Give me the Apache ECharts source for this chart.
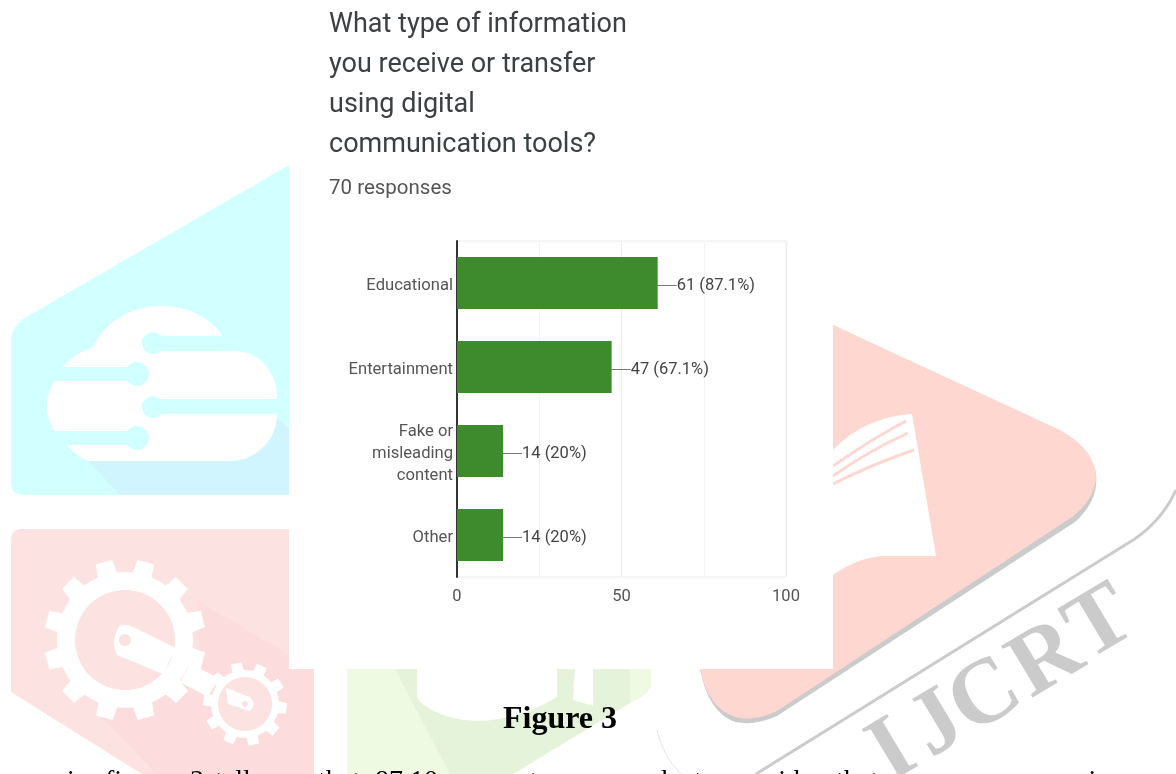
<!DOCTYPE html>
<html>
<head>
<meta charset="utf-8">
<title>Digital communication survey</title>
<style>html,body{margin:0;padding:0;background:#fff;overflow:hidden}#chart{width:1176px;height:774px}</style>
<script src="https://cdn.jsdelivr.net/npm/echarts@6/dist/echarts.min.js"></script>
</head>
<body>
<div id="chart"></div>
<script>
// Survey responses
const categories = ['Educational', 'Entertainment', 'Fake or\nmisleading\ncontent', 'Other'];
const counts = [61, 47, 14, 14];
const shares = ['87.1%', '67.1%', '20%', '20%'];
const questionLines = ['What type of information', 'you receive or transfer', 'using digital', 'communication tools?'];
const responseNote = '70 responses';
const caption = 'Figure 3';
const bodyWords = [['in', 67], ['figure', 105], ['3', 190], ['tells', 215], ['us', 276], ['that', 318], ['87.10', 375], ['percent', 455], ['respondents', 579], ['said', 755], ['that', 836], ['users', 900], ['receive', 1042]];
const crestLetters = [['I', 893, 753], ['J', 938, 726], ['C', 986, 698], ['R', 1047, 661], ['T', 1101, 625]];

const Z = -10;
let pathCount = 0;
// Registers an SVG path string as a shape type usable from the graphic component
function pathType(d) {
  const name = 'emblemPath' + (pathCount++);
  echarts.graphic.registerShape(name, echarts.graphic.extendPath(d, {}));
  return name;
}
const shape = (d, fill) => ({ type: pathType(d), z: Z, style: { fill } });
const stroke = (d, color, lineWidth) => ({ type: pathType(d), z: Z, style: { fill: null, stroke: color, lineWidth } });
const disc = (cx, cy, r, fill) => ({ type: 'circle', z: Z, shape: { cx, cy, r }, style: { fill } });
const box = (x, y, width, height, fill) => ({ type: 'rect', z: Z, shape: { x, y, width, height }, style: { fill } });

// Toothed wheel outline for the page emblem
function cog(cx, cy, outer, root, teeth, phase) {
  let d = '';
  for (let i = 0; i < teeth; i++) {
    const a = phase + i * 2 * Math.PI / teeth, s = Math.PI / teeth;
    [[root, -s], [root, -s * 0.55], [outer, -s * 0.4], [outer, s * 0.4], [root, s * 0.55]].forEach(([r, o], k) => {
      d += (i === 0 && k === 0 ? 'M' : 'L') + (cx + r * Math.cos(a + o)).toFixed(1) + ' ' + (cy + r * Math.sin(a + o)).toFixed(1) + ' ';
    });
  }
  return d + 'Z';
}

const CYAN = '#d2ffff', CYAN2 = '#d1f5ff', ROSE = '#fde2e2', ROSE2 = '#fcdcdc', LIME = '#eefae1', LIME2 = '#e6f3db', SALMON = '#ffd7d1', GREY = '#cbcbcb';

const emblem = [
  // upper-left panel with cloud
  shape('M289 165 L28 316 Q11 326 11 340 L11 482 Q11 495 24 495 L289 495 Z', CYAN),
  shape('M88 461 L120 495 L289 495 L289 429 L275 415 Z', CYAN2),
  shape('M62 367 C72 357 82 351 93 347 C105 322 130 306 160 306 C190 306 210 318 222 335 L222 351 L233 351 C260 351 277 372 277 397 L277 414 C277 440 256 461 230 461 L88 461 C80 458 72 452 67 445 L55 431 C50 425 47 415 47 405 C47 395 50 388 55 381 Z', '#ffffff'),
  box(40, 367, 97, 14, CYAN), box(153, 336, 72, 15, CYAN), box(153, 399, 125, 15, CYAN), box(40, 431, 97, 14, CYAN),
  disc(153, 343, 11, CYAN), disc(137, 374, 12, CYAN), disc(153, 407, 11, CYAN), disc(137, 438, 12, CYAN),
  // lower-left panel with gears
  shape('M22 529 L289 529 L289 669 L314 669 L314 774 L142 774 L11 692 L11 540 Q11 529 22 529 Z', ROSE),
  shape('M197 600 L289 655 L289 669 L314 669 L314 774 L157 774 L97 712 L200 680 Z', ROSE2),
  shape(cog(125, 640, 81, 68, 12, 0.26), '#ffffff'), disc(125, 640, 50, ROSE),
  shape(cog(245, 704, 42, 34, 10, 0.1), '#ffffff'), disc(245, 704, 27, ROSE),
  shape('M190 664 L219 678 L208 697 L180 682 Z', '#ffffff'),
  shape('M120 625 Q128 624 135 628 L176 648 L163 674 L117 655 Q110 640 120 625 Z', '#ffffff'),
  disc(125, 640, 6, ROSE),
  shape('M226 688 L250 697 Q257 704 250 711 L228 704 Z', '#ffffff'), disc(245, 704, 3, ROSE),
  // bottom-centre panel
  shape('M347 669 L651 669 L651 687 Q645 697 630 703 L513 774 L347 774 Z', LIME),
  shape('M395 669 L630 669 L630 703 L513 774 L450 774 Z', LIME2),
  shape('M417 669 L417 697 Q425 712 463 720 Q510 725 557 697 L557 669 Z', '#ffffff'),
  shape('M575 669 L593 669 L593 706 L573 700 Z', '#ffffff'),
  // right panel with its drop edge
  shape('M833 325 L1060 433 Q1100 455 1096 485 Q1094 505 1075 522 L777 716 Q755 726 735 722 Q708 712 700 669 L833 669 Z', GREY),
  shape('M833 325 L1060 430 Q1096 450 1096 478 Q1094 500 1072 517 L777 711 Q755 722 735 717 Q708 708 700 669 L833 669 Z', SALMON),
  shape('M833 450 Q850 432 872 423 Q892 415 912 414 L936 556 L886 556 Q860 556 833 575 Z', '#ffffff'),
  stroke('M833 466 Q870 440 906 421', SALMON, 3), stroke('M833 476 Q870 450 908 433', SALMON, 3), stroke('M833 484 Q870 465 914 450', SALMON, 3),
  // outer sweep and lettering
  stroke('M756 774 L1125 545 Q1160 525 1176 490', GREY, 3),
  stroke('M657 730 Q662 755 681 774', '#e4e4e4', 1)
].concat(crestLetters.map(([text, x, y]) => ({
  type: 'text', z: Z, x, y, originX: 0, originY: 0, rotation: 31 * Math.PI / 180,
  style: { text, font: 'bold 92px "Liberation Serif"', fill: GREY, align: 'center', verticalAlign: 'middle' }
}))).concat([
  // white sheet holding the question and chart
  box(289, 0, 544, 669, '#ffffff')
]);

const bodyLine = bodyWords.map(([text, x]) => ({ type: 'text', z: 5, x, y: 768, style: { text, font: '28px "Liberation Serif"', fill: '#000', verticalAlign: 'top' } }));

// Text sits low in its line box so labels centre on the bars
const lowText = (fontSize, color) => ({ t: { fontFamily: 'Roboto', fontSize, color, lineHeight: 22, verticalAlign: 'bottom' } });

const chart = echarts.init(document.getElementById('chart'));
chart.setOption({
  backgroundColor: '#ffffff',
  animation: false,
  graphic: { elements: emblem.concat(bodyLine) },
  title: [
    { text: questionLines.join('\n'), subtext: responseNote, left: 329, top: 5, padding: 0, itemGap: 13,
      textStyle: { fontFamily: 'Roboto', fontWeight: 400, fontSize: 27, lineHeight: 40, color: '#3c4043' },
      subtextStyle: { fontFamily: 'Roboto', fontSize: 20.5, color: '#555' } },
    { text: caption, left: 503, top: 704, padding: 0, textStyle: { fontFamily: 'Liberation Serif', fontWeight: 'bold', fontSize: 32, color: '#000' } }
  ],
  grid: { left: 457, top: 241, width: 329, height: 336, show: true, borderColor: '#ececec', borderWidth: 1, backgroundColor: 'transparent' },
  xAxis: {
    type: 'value', min: 0, max: 100, interval: 50,
    axisLine: { show: false }, axisTick: { show: false },
    axisLabel: { fontFamily: 'Roboto', fontSize: 16.5, color: '#555', margin: 11 },
    splitLine: { show: true, lineStyle: { color: '#ececec', width: 1 } },
    minorTick: { show: false, splitNumber: 2 },
    minorSplitLine: { show: true, lineStyle: { color: '#f4f4f4', width: 1 } }
  },
  yAxis: {
    type: 'category', inverse: true, data: categories,
    axisLine: { show: true, lineStyle: { color: '#333', width: 2 } }, axisTick: { show: false },
    axisLabel: { margin: 4, align: 'right', rich: lowText(16.6, '#555'),
      formatter: v => v.split('\n').map(s => '{t|' + s + '}').join('\n') }
  },
  series: [{
    type: 'bar', data: counts, barWidth: 52, z: 3,
    itemStyle: { color: '#3d8b2c' },
    label: { show: true, position: 'right', distance: 0, rich: lowText(16.5, '#444'),
      formatter: p => '{t|' + p.value + ' (' + shares[p.dataIndex] + ')}' },
    labelLayout: { dx: 19 },
    labelLine: { show: true, lineStyle: { color: '#777', width: 1 } }
  }]
});
</script>
</body>
</html>
